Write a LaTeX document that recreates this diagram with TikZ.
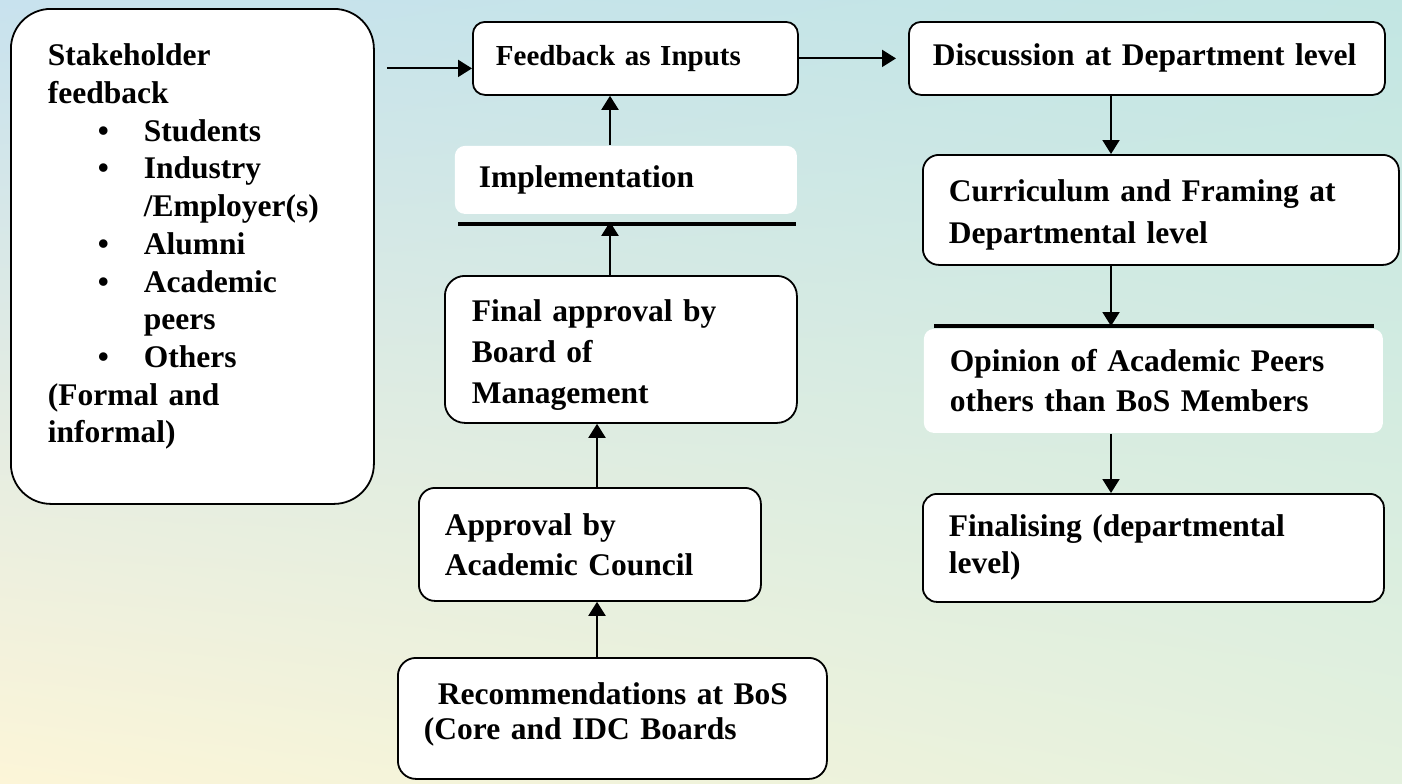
\documentclass[tikz,border=0pt]{standalone}
\usepackage{fontspec}
\setmainfont{Liberation Serif}
\usetikzlibrary{positioning,arrows.meta,shadings}

\definecolor{bgul}{RGB}{200,226,238}
\definecolor{bgur}{RGB}{194,230,227}
\definecolor{bgll}{RGB}{252,245,216}
\definecolor{bglr}{RGB}{228,241,222}

\newcommand{\bulitem}{\makebox[48pt][l]{\hspace*{25pt}\textbullet}}
\newcommand{\boxfont}[1]{\fontsize{15.75pt}{#1}\selectfont\bfseries}

\tikzset{
  stepbox/.style={draw, line width=0.9pt, fill=white, rounded corners=6pt,
    align=left, anchor=north west, inner xsep=13pt, inner ysep=0pt,
    font=\boxfont{18.5pt}},
  whitebox/.style={stepbox, draw=none},
  arr/.style={-{Triangle[length=7pt,width=8.5pt]}, line width=1pt},
  bar/.style={line width=2pt},
}

\begin{document}
\begin{tikzpicture}[x=0.5pt, y=-0.5pt]
			% Background
			\shade[upper left=bgul, upper right=bgur, lower left=bgll, lower right=bglr]
				(0,0) rectangle (1402,783);

			% Define nodes
			\node[stepbox, rounded corners=20pt, text width=144.5pt, minimum height=247.5pt,
				inner xsep=18.5pt, font=\boxfont{18.85pt}] (stake) at (10,8)
				{Stakeholder\\ feedback\\ \bulitem Students\\ \bulitem Industry\\
				 \hspace*{48pt}/Employer(s)\\ \bulitem Alumni\\ \bulitem Academic\\
				 \hspace*{48pt}peers\\ \bulitem Others\\ (Formal and\\ informal)\rule[-13pt]{0pt}{0pt}};
			\node[stepbox, text width=139.5pt, minimum height=36.5pt, inner xsep=11.5pt,
				font=\fontsize{14.5pt}{17pt}\selectfont\bfseries] (fb) at (472,21) {Feedback as Inputs};
			\node[stepbox, text width=214pt, minimum height=36.5pt, inner xsep=12pt] (disc) at (908,21)
				{Discussion at Department level};
			\node[stepbox, rounded corners=8pt, text width=212pt, minimum height=55pt,
				font=\boxfont{21pt}] (cur) at (922,154) {\rule{0pt}{16pt}Curriculum and Framing at\\ Departmental level};
			\node[whitebox, rounded corners=5pt, text width=203.5pt, minimum height=52pt,
				font=\boxfont{20pt}] (op) at (923,328) {Opinion of Academic Peers\\ others than BoS Members};
			\node[stepbox, rounded corners=7pt, text width=204.5pt, minimum height=54pt] (fin) at (922,493)
				{Finalising (departmental\\ level)};
			\node[whitebox, rounded corners=5pt, text width=147pt, minimum height=34pt, inner xsep=12pt]
				(impl) at (454,145) {Implementation};
			\node[stepbox, rounded corners=10pt, text width=149pt, minimum height=73.5pt, inner xsep=13.5pt,
				font=\boxfont{20.5pt}] (final) at (444,275) {\rule{0pt}{17pt}Final approval by\\ Board of\\ Management};
			\node[stepbox, rounded corners=8pt, text width=145pt, minimum height=56.5pt,
				font=\boxfont{20pt}] (acad) at (418,487) {Approval by\\ Academic Council};
			\node[stepbox, rounded corners=9pt, text width=188.5pt, minimum height=60.5pt,
				font=\boxfont{17.5pt}] (bos) at (397,657)
				{\hspace*{7pt}Recommendations at BoS\\ (Core and IDC Boards\rule[-7pt]{0pt}{0pt}};

			% Bars above the borderless boxes
			\draw[bar] ([shift={(11,-2)}]op.north west) -- ([shift={(-10,-2)}]op.north east);
			\draw[bar] ([shift={(4,9)}]impl.south west) -- ([shift={(-2,9)}]impl.south east);

			% Connect the nodes
			\coordinate (rcol) at (1111,0);
			\coordinate (mcol) at (610,0);
			\coordinate (lcol) at (597,0);
			\coordinate (fbin) at ([shift={(0,10)}]fb.west);
			\coordinate (implbar) at ([shift={(0,7)}]impl.south);
			\draw[arr, shorten <=6pt] (fbin -| stake.east) -- (fbin);
			\draw[arr, shorten >=6pt] (fb.east) -- (disc.west);
			\draw[arr] (disc.south -| rcol) -- (cur.north -| rcol);
			\draw[arr, shorten >=1pt] (cur.south -| rcol) -- (op.north -| rcol);
			\draw[arr] (op.south -| rcol) -- (fin.north -| rcol);
			\draw[arr] (bos.north -| lcol) -- (acad.south -| lcol);
			\draw[arr] (acad.north -| lcol) -- (final.south -| lcol);
			\draw[arr] (final.north -| mcol) -- (implbar -| mcol);
			\draw[arr] (impl.north -| mcol) -- (fb.south -| mcol);
		\end{tikzpicture}
\end{document}
